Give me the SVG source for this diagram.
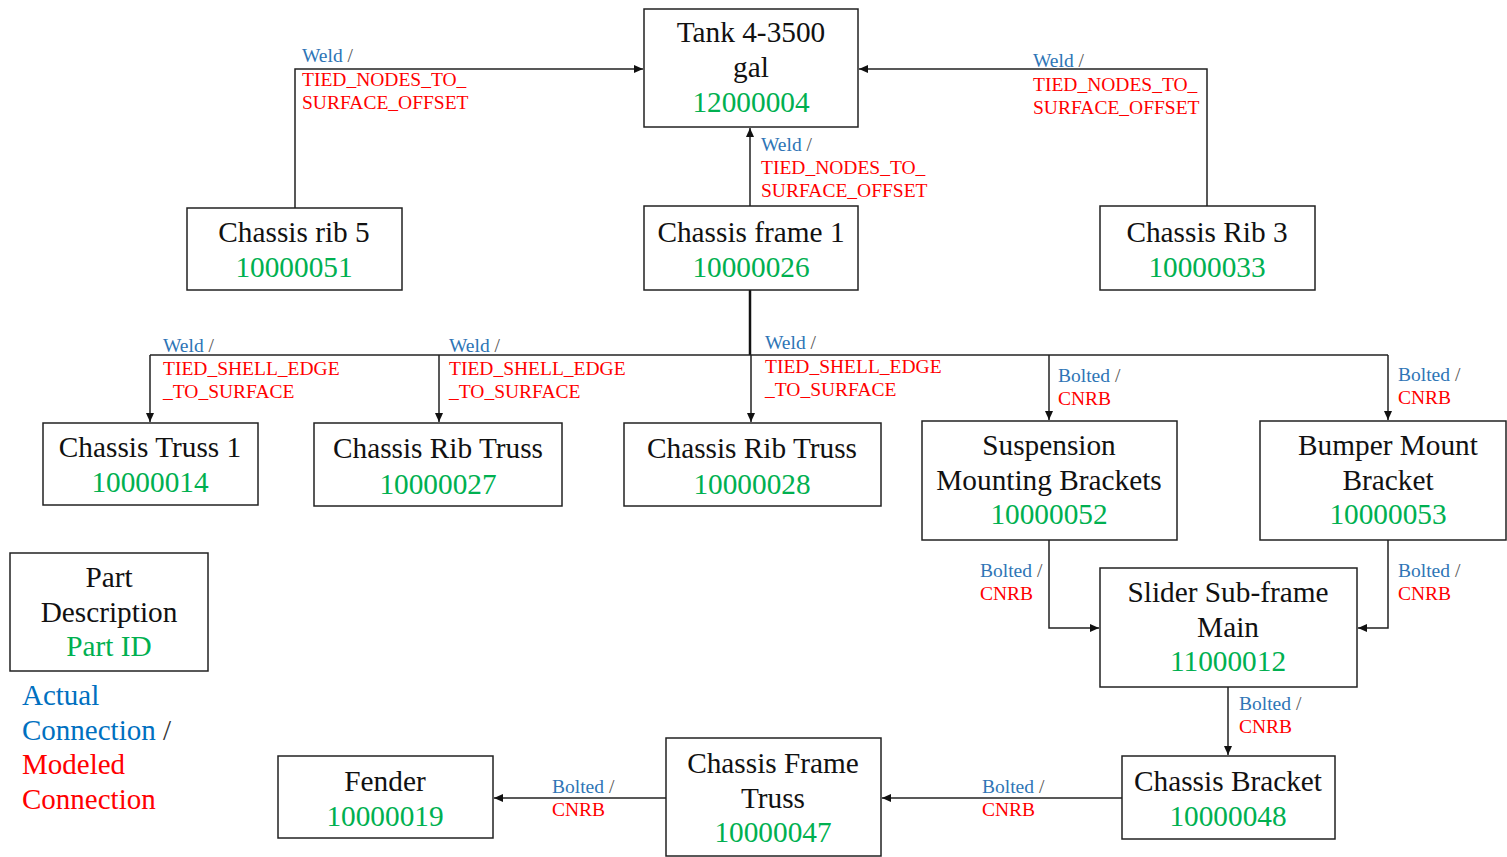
<svg xmlns="http://www.w3.org/2000/svg" width="1507" height="857" viewBox="0 0 1507 857">
<style>
.box{fill:#fff;stroke:#222;stroke-width:1.5}
.t{font-family:'Liberation Serif',Tinos,serif;font-size:29.3px;fill:#111;text-anchor:middle}
.id{fill:#00B050}
.c{fill:none;stroke:#222;stroke-width:1.5}
.l{font-family:'Liberation Serif',Tinos,serif;font-size:19.5px}
.b{fill:#2E75B6}
.s{fill:#555}
.r{fill:#FF0000}
.lg{font-family:'Liberation Serif',Tinos,serif;font-size:29px}
</style>
<defs>
<marker id="ah" markerUnits="userSpaceOnUse" markerWidth="10" markerHeight="10" refX="9" refY="5" orient="auto">
<path d="M0,1 L9,5 L0,9 Z" fill="#111"/>
</marker>
</defs>
<rect width="1507" height="857" fill="#fff"/>
<g id="connectors">
<path class="c" d="M295,208 V69 H643" marker-end="url(#ah)"/>
<path class="c" d="M1207,206 V69 H859" marker-end="url(#ah)"/>
<path class="c" d="M750,206 V128" marker-end="url(#ah)"/>
<path d="M750,290 V355" stroke="#111" stroke-width="2.5" fill="none"/>
<path class="c" d="M150,355 H1388"/>
<path class="c" d="M150,355 V422" marker-end="url(#ah)"/>
<path class="c" d="M439,355 V422" marker-end="url(#ah)"/>
<path class="c" d="M751,355 V422" marker-end="url(#ah)"/>
<path class="c" d="M1049,355 V420" marker-end="url(#ah)"/>
<path class="c" d="M1388,355 V420" marker-end="url(#ah)"/>
<path class="c" d="M1049,540 V628 H1099" marker-end="url(#ah)"/>
<path class="c" d="M1388,540 V628 H1358" marker-end="url(#ah)"/>
<path class="c" d="M1228,687 V755" marker-end="url(#ah)"/>
<path class="c" d="M1122,798 H882" marker-end="url(#ah)"/>
<path class="c" d="M666,798 H494" marker-end="url(#ah)"/>
<g class="l">
<text x="302" y="62"><tspan class="b">Weld</tspan><tspan class="s"> /</tspan></text>
<text x="302" y="86" class="r">TIED_NODES_TO_</text>
<text x="302" y="109" class="r">SURFACE_OFFSET</text>
<text x="1033" y="67"><tspan class="b">Weld</tspan><tspan class="s"> /</tspan></text>
<text x="1033" y="91" class="r">TIED_NODES_TO_</text>
<text x="1033" y="114" class="r">SURFACE_OFFSET</text>
<text x="761" y="151"><tspan class="b">Weld</tspan><tspan class="s"> /</tspan></text>
<text x="761" y="174" class="r">TIED_NODES_TO_</text>
<text x="761" y="197" class="r">SURFACE_OFFSET</text>
<text x="163" y="352"><tspan class="b">Weld</tspan><tspan class="s"> /</tspan></text>
<text x="163" y="375" class="r">TIED_SHELL_EDGE</text>
<text x="163" y="398" class="r">_TO_SURFACE</text>
<text x="449" y="352"><tspan class="b">Weld</tspan><tspan class="s"> /</tspan></text>
<text x="449" y="375" class="r">TIED_SHELL_EDGE</text>
<text x="449" y="398" class="r">_TO_SURFACE</text>
<text x="765" y="349"><tspan class="b">Weld</tspan><tspan class="s"> /</tspan></text>
<text x="765" y="373" class="r">TIED_SHELL_EDGE</text>
<text x="765" y="396" class="r">_TO_SURFACE</text>
<text x="1058" y="382"><tspan class="b">Bolted</tspan><tspan class="s"> /</tspan></text>
<text x="1058" y="405" class="r">CNRB</text>
<text x="1398" y="381"><tspan class="b">Bolted</tspan><tspan class="s"> /</tspan></text>
<text x="1398" y="404" class="r">CNRB</text>
<text x="980" y="577"><tspan class="b">Bolted</tspan><tspan class="s"> /</tspan></text>
<text x="980" y="600" class="r">CNRB</text>
<text x="1398" y="577"><tspan class="b">Bolted</tspan><tspan class="s"> /</tspan></text>
<text x="1398" y="600" class="r">CNRB</text>
<text x="1239" y="710"><tspan class="b">Bolted</tspan><tspan class="s"> /</tspan></text>
<text x="1239" y="733" class="r">CNRB</text>
<text x="982" y="793"><tspan class="b">Bolted</tspan><tspan class="s"> /</tspan></text>
<text x="982" y="816" class="r">CNRB</text>
<text x="552" y="793"><tspan class="b">Bolted</tspan><tspan class="s"> /</tspan></text>
<text x="552" y="816" class="r">CNRB</text>
</g>
</g>
<g id="tank"><rect class="box" x="644" y="9" width="214" height="118"/><text class="t" x="751" y="42">Tank 4-3500</text><text class="t" x="751" y="77">gal</text><text class="t id" x="751" y="112">12000004</text></g>
<g id="rib5"><rect class="box" x="187" y="208" width="215" height="82"/><text class="t" x="294" y="242">Chassis rib 5</text><text class="t id" x="294" y="277">10000051</text></g>
<g id="frame1"><rect class="box" x="644" y="206" width="214" height="84"/><text class="t" x="751" y="242">Chassis frame 1</text><text class="t id" x="751" y="277">10000026</text></g>
<g id="rib3"><rect class="box" x="1100" y="206" width="215" height="84"/><text class="t" x="1207" y="242">Chassis Rib 3</text><text class="t id" x="1207" y="277">10000033</text></g>
<g id="truss1"><rect class="box" x="43" y="423" width="215" height="82"/><text class="t" x="150" y="457">Chassis Truss 1</text><text class="t id" x="150" y="492">10000014</text></g>
<g id="ribtruss27"><rect class="box" x="314" y="423" width="248" height="83"/><text class="t" x="438" y="458">Chassis Rib Truss</text><text class="t id" x="438" y="494">10000027</text></g>
<g id="ribtruss28"><rect class="box" x="624" y="423" width="257" height="83"/><text class="t" x="752" y="458">Chassis Rib Truss</text><text class="t id" x="752" y="494">10000028</text></g>
<g id="suspension"><rect class="box" x="922" y="421" width="255" height="119"/><text class="t" x="1049" y="455">Suspension</text><text class="t" x="1049" y="490">Mounting Brackets</text><text class="t id" x="1049" y="524">10000052</text></g>
<g id="bumper"><rect class="box" x="1260" y="421" width="246" height="119"/><text class="t" x="1388" y="455">Bumper Mount</text><text class="t" x="1388" y="490">Bracket</text><text class="t id" x="1388" y="524">10000053</text></g>
<g id="slider"><rect class="box" x="1100" y="568" width="257" height="119"/><text class="t" x="1228" y="602">Slider Sub-frame</text><text class="t" x="1228" y="637">Main</text><text class="t id" x="1228" y="671">11000012</text></g>
<g id="bracket"><rect class="box" x="1122" y="756" width="213" height="83"/><text class="t" x="1228" y="791">Chassis Bracket</text><text class="t id" x="1228" y="826">10000048</text></g>
<g id="frametruss"><rect class="box" x="666" y="738" width="215" height="118"/><text class="t" x="773" y="773">Chassis Frame</text><text class="t" x="773" y="808">Truss</text><text class="t id" x="773" y="842">10000047</text></g>
<g id="fender"><rect class="box" x="278" y="756" width="215" height="82"/><text class="t" x="385" y="791">Fender</text><text class="t id" x="385" y="826">10000019</text></g>
<g id="legend"><rect class="box" x="10" y="553" width="198" height="118"/><text class="t" x="109" y="587">Part</text><text class="t" x="109" y="622">Description</text><text class="t id" x="109" y="656">Part ID</text>
<text class="lg" x="22" y="705" fill="#0070C0">Actual</text>
<text class="lg" x="22" y="740"><tspan fill="#0070C0">Connection</tspan><tspan fill="#333"> /</tspan></text>
<text class="lg" x="22" y="774" fill="#FF0000">Modeled</text>
<text class="lg" x="22" y="809" fill="#FF0000">Connection</text>
</g>
</svg>
